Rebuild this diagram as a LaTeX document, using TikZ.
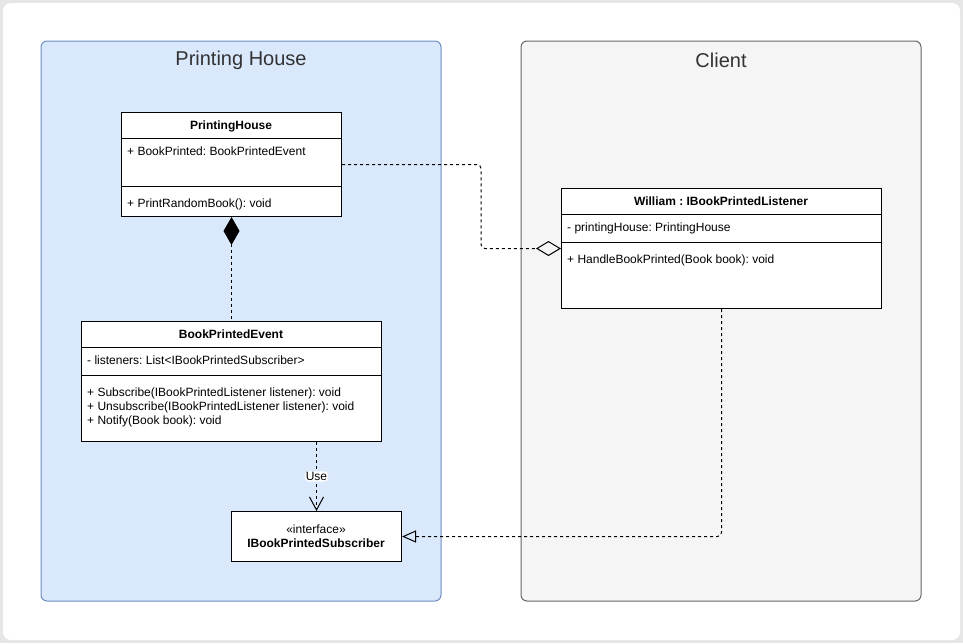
\documentclass[tikz,border=0pt]{standalone}
\usepackage{fontspec}
\setmainfont{Liberation Sans}
\usetikzlibrary{arrows.meta,positioning}
\definecolor{housefill}{HTML}{DAE8FC}
\definecolor{houseline}{HTML}{6C8EBF}
\definecolor{clientfill}{HTML}{F5F5F5}
\definecolor{clientline}{HTML}{666666}
\definecolor{framegray}{HTML}{E6E6E6}
\definecolor{titlegray}{HTML}{333333}
\frenchspacing
\newcommand\umlsize{\fontsize{12}{14}\selectfont}
\tikzset{
  umlbox/.style={draw, fill=white, line width=1pt, inner sep=0, anchor=north west},
  umlhead/.style={font=\umlsize\bfseries, anchor=base, inner sep=0},
  umlitem/.style={font=\umlsize, anchor=base west, inner sep=0},
  lane/.style={rounded corners=6pt, line width=1pt},
  lanetitle/.style={font=\fontsize{20}{24}\selectfont, text=titlegray},
  link/.style={line width=1pt, dash pattern=on 3pt off 3pt, rounded corners=4pt}
}
\begin{document}
\begin{tikzpicture}[x=1pt, y=-1pt]
\fill[framegray] (0,0) rectangle (963,643);
\fill[white, rounded corners=8pt] (3,3) rectangle (960,640);
\draw[lane, draw=houseline, fill=housefill] (41,41) rectangle (441,601);
\draw[lane, draw=clientline, fill=clientfill] (521,41) rectangle (921,601);
\node[lanetitle] (housetitle) at (241,60) {Printing House};
\node[lanetitle] (clienttitle) at (721,60) {Client};

\node[umlbox, minimum width=220, minimum height=104] (ph) at (121,112) {};
\node[umlbox, minimum width=300, minimum height=120] (bpe) at (81,321) {};
\node[umlbox, minimum width=320, minimum height=120] (will) at (561,188) {};
\node[umlbox, minimum width=170, minimum height=50] (sub) at (231,511) {};
\foreach \n/\d in {ph/26, ph/74, bpe/26, bpe/54, will/26, will/54}
   \draw[line width=1pt] ([yshift=-\d pt]\n.north west) -- ([yshift=-\d pt]\n.north east);

\node[umlhead] (phname) at (231,129) {PrintingHouse};
\node[umlitem] (phattr) at (127,155) {+ BookPrinted: BookPrintedEvent};
\node[umlitem] (phop) at (127,207) {+ PrintRandomBook(): void};

\node[umlhead] (bpename) at (231,338) {BookPrintedEvent};
\node[umlitem] (bpeattr) at (87,364) {- listeners: List<IBookPrintedSubscriber>};
\foreach \y/\t in {396/{+ Subscribe(IBookPrintedListener listener): void},
                   410/{+ Unsubscribe(IBookPrintedListener listener): void},
                   424/{+ Notify(Book book): void}}
   \node[umlitem] (bpeop\y) at (87,\y) {\t};

\node[umlhead] (willname) at (721,205) {William : IBookPrintedListener};
\node[umlitem] (willattr) at (567,231) {- printingHouse: PrintingHouse};
\node[umlitem] (willop) at (567,263) {+ HandleBookPrinted(Book book): void};

\node[font=\umlsize, anchor=base, inner sep=0] (substereo) at (316,533) {«interface»};
\node[umlhead] (subname) at (316,547) {IBookPrintedSubscriber};

\coordinate (bendx) at (481,0);
\draw[link, {Diamond[length=28pt,width=16pt]}-] (ph.south) -- (bpe.north);
\draw[link, -{Diamond[open,length=25pt,width=15pt]}] (ph.east) -- (ph.east -| bendx) |- (will.west);
\draw[link, -{Straight Barb[length=13pt,width=14pt]}] (bpe.south -| sub.north) -- node[fill=white, font=\umlsize, inner sep=1pt] (uselabel) {Use} (sub.north);
\draw[link, -{Triangle[open,length=14pt,width=12pt]}] (will.south) |- (sub.east);
\end{tikzpicture}
\end{document}
